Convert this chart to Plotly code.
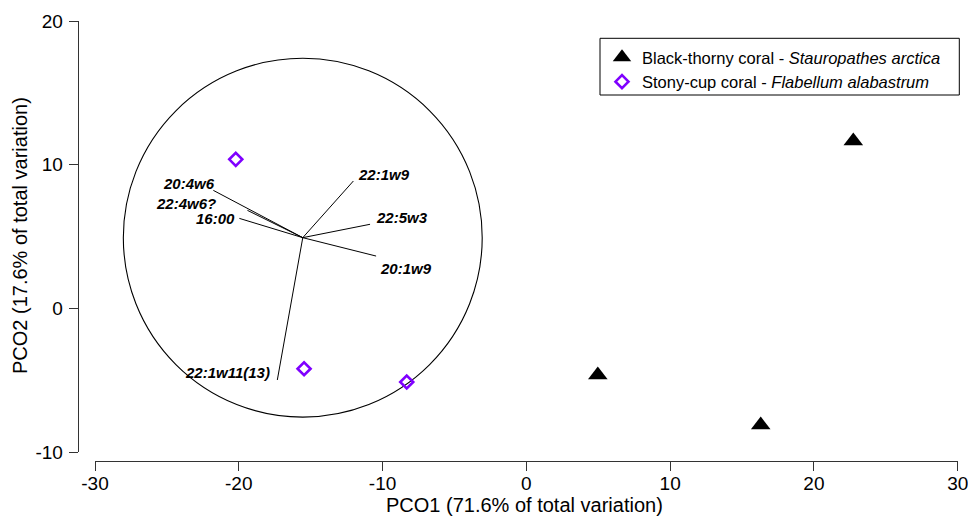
import plotly.graph_objects as go

W, H = 968, 517

# ---------------- data ----------------
thorny_name = "Black-thorny coral - <i>Stauropathes arctica</i>"
thorny_x = [22.74, 4.97, 16.30]
thorny_y = [11.65, -4.62, -8.10]

cup_name = "Stony-cup coral - <i>Flabellum alabastrum</i>"
cup_x = [-20.21, -15.46, -8.32]
cup_y = [10.38, -4.19, -5.11]

vec_labels = ["22:1w9", "22:5w3", "20:1w9", "20:4w6", "22:4w6?", "16:00", "22:1w11(13)"]
vec_x = [-12.03, -10.87, -10.45, -21.77, -19.40, -19.96, -17.32]
vec_y = [8.87, 5.86, 3.65, 8.22, 6.83, 6.27, -4.97]
origin_x, origin_y = -15.55, 4.93
circle_r = 12.48

x_ticks = [-30, -20, -10, 0, 10, 20, 30]
y_ticks = [-10, 0, 10, 20]
x_title = "PCO1 (71.6% of total variation)"
y_title = "PCO2 (17.6% of total variation)"

# ---------------- style ----------------
FONT = "Liberation Sans, Arial, sans-serif"
AXC = "#333333"
PURPLE = "#7f00ff"
# label placement (xanchor, xshift px, yshift px)
label_style = {
    "22:1w9": ("left", 3, 7),
    "22:5w3": ("left", 4, 7),
    "20:1w9": ("left", 2, -12),
    "20:4w6": ("right", 4, 7),
    "22:4w6?": ("right", -29, 7),
    "16:00": ("right", -2, 0),
    "22:1w11(13)": ("right", -5, 7),
}

fig = go.Figure()

# vectors
vx, vy = [], []
for x, y in zip(vec_x, vec_y):
    vx += [origin_x, x, None]
    vy += [origin_y, y, None]
fig.add_trace(go.Scatter(x=vx, y=vy, mode="lines", line=dict(color="black", width=1),
                         showlegend=False, hoverinfo="skip"))

fig.add_trace(go.Scatter(x=thorny_x, y=thorny_y, mode="markers", name=thorny_name,
                         marker=dict(symbol="triangle-up", size=17, color="black",
                                     line=dict(width=0))))
fig.add_trace(go.Scatter(x=cup_x, y=cup_y, mode="markers", name=cup_name,
                         marker=dict(symbol="diamond-open", size=10, color=PURPLE,
                                     line=dict(width=2.6, color=PURPLE))))

for lab, x, y in zip(vec_labels, vec_x, vec_y):
    xa, xs, ys = label_style[lab]
    fig.add_annotation(x=x, y=y, xref="x", yref="y", text=lab, showarrow=False,
                       xanchor=xa, yanchor="middle", xshift=xs, yshift=ys,
                       font=dict(family=FONT, size=15, color="black",
                                 weight="bold", style="italic"))

fig.add_shape(type="circle", xref="x", yref="y",
              x0=origin_x - circle_r, x1=origin_x + circle_r,
              y0=origin_y - circle_r, y1=origin_y + circle_r,
              line=dict(color="black", width=1.1), layer="below")

# legend frame
fig.add_shape(type="rect", xref="paper", yref="paper",
              x0=600 / W, x1=959.3 / W, y0=(H - 95) / H, y1=(H - 38.3) / H,
              line=dict(color="black", width=1))

# axis titles
fig.add_annotation(x=524 / W, y=(H - 505) / H, xref="paper", yref="paper", text=x_title,
                   showarrow=False, xanchor="center", yanchor="middle",
                   font=dict(family=FONT, size=20, color="black"))
fig.add_annotation(x=20 / W, y=(H - 236) / H, xref="paper", yref="paper", text=y_title,
                   showarrow=False, xanchor="center", yanchor="middle", textangle=-90,
                   font=dict(family=FONT, size=20, color="black"))

fig.update_layout(
    template="none",
    width=W, height=H,
    margin=dict(l=0, r=0, t=0, b=0),
    paper_bgcolor="white", plot_bgcolor="white",
    font=dict(family=FONT, color="black"),
    xaxis=dict(range=[-30, 30], domain=[95 / W, 957.7 / W], anchor="free",
               position=(H - 461) / H, showline=True, linecolor=AXC, linewidth=1,
               ticks="outside", ticklen=9, tickcolor=AXC, tickwidth=1,
               tickvals=x_ticks, ticktext=[str(v) for v in x_ticks],
               showgrid=False, zeroline=False, automargin=False,
               ticklabeloverflow="allow", ticklabelstandoff=-4,
               tickfont=dict(family=FONT, size=19, color="black")),
    yaxis=dict(range=[-10, 20], domain=[(H - 452.3) / H, (H - 21) / H], anchor="free",
               position=77.7 / W, showline=True, linecolor=AXC, linewidth=1,
               ticks="outside", ticklen=9, tickcolor=AXC, tickwidth=1,
               tickvals=y_ticks, ticktext=[str(v) for v in y_ticks],
               showgrid=False, zeroline=False, automargin=False,
               ticklabeloverflow="allow", ticklabelstandoff=2,
               tickfont=dict(family=FONT, size=19, color="black")),
    legend=dict(x=602 / W, y=(H - 40) / H, xanchor="left", yanchor="top",
                bgcolor="rgba(0,0,0,0)", borderwidth=0,
                font=dict(family=FONT, size=16.5, color="black"), tracegroupgap=0),
    showlegend=True,
)

fig.write_html("out.html")
